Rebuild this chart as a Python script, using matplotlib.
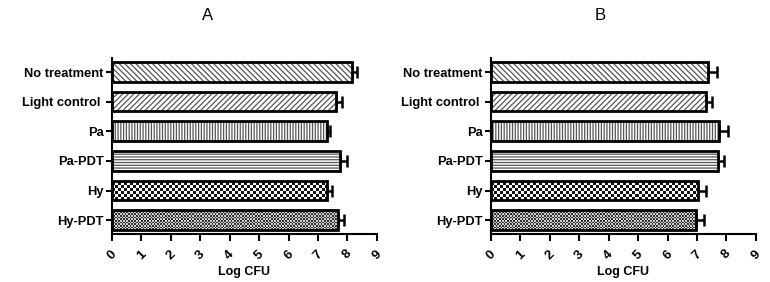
import numpy as np
import matplotlib
matplotlib.use('Agg')
import matplotlib.pyplot as plt

plt.rcParams['font.family'] = ['Liberation Sans', 'DejaVu Sans']
plt.rcParams['hatch.linewidth'] = 0.9

# data
groups = ['No treatment', 'Light control ', 'Pa', 'Pa-PDT', 'Hy', 'Hy-PDT']
log_cfu_a = [8.15, 7.62, 7.30, 7.73, 7.30, 7.68]
err_a = [0.17, 0.20, 0.10, 0.25, 0.17, 0.20]
log_cfu_b = [7.38, 7.31, 7.76, 7.72, 7.04, 6.97]
err_b = [0.30, 0.20, 0.28, 0.20, 0.27, 0.28]
hatches = ['\\\\\\\\\\\\', '//////', '||||||', '------', None, None]
# checkerboard fills for the last two bars: (cell size in px, light, dark)
checkers = {4: (3.0, 'white', '#111111'), 5: (1.6, '#cfcfcf', '#333333')}
panel_titles = ['A', 'B']

fig = plt.figure(figsize=(7.7, 2.82), dpi=100)
ax_a = fig.add_axes([0.1455, 0.170, 0.344, 0.624])
ax_b = fig.add_axes([0.6377, 0.170, 0.344, 0.624])

px_per_unit = 265 / 9.0
bar_h = 0.66


def draw_panel(ax, vals, errs):
    y = np.arange(len(groups))
    ax.set_ylim(5.47, -0.47)
    ax.set_xlim(0, 9)
    for i in range(len(groups)):
        if hatches[i] is not None:
            ax.barh(y[i], vals[i], height=bar_h, color='white', edgecolor='#555555',
                    hatch=hatches[i], linewidth=0, zorder=2)
        else:
            cell, c1, c2 = checkers[i]
            bars = ax.barh(y[i], vals[i], height=bar_h, color='white', linewidth=0, zorder=2)
            nx = int(vals[i] * px_per_unit / cell) + 1
            ny = int(20 / cell) + 1
            board = (np.add.outer(np.arange(ny), np.arange(nx)) % 2).astype(float)
            cmap = matplotlib.colors.ListedColormap([c1, c2])
            im = ax.imshow(board, cmap=cmap, interpolation='nearest', aspect='auto',
                           extent=(0, nx * cell / px_per_unit, y[i] + bar_h / 2, y[i] - bar_h / 2 - 0.05),
                           zorder=2.5)
            im.set_clip_path(bars[0])
    ax.barh(y, vals, height=bar_h, color='none', edgecolor='black', linewidth=2, zorder=3)
    ax.errorbar(vals, y, xerr=[np.zeros(len(errs)), errs], fmt='none', ecolor='black',
                elinewidth=1.8, capsize=4, capthick=1.8, zorder=1)
    ax.set_ylim(5.47, -0.47)
    ax.set_xlim(0, 9)
    ax.set_xticks(range(10))
    ax.set_yticks(y)
    ax.set_yticklabels(groups, fontsize=9.3, fontweight='bold')
    for lab in ax.get_xticklabels():
        lab.set_rotation(45)
        lab.set_fontweight('bold')
        lab.set_fontsize(9.5)
        lab.set_ha('center')
    ax.tick_params(axis='both', width=1.5, length=4, pad=2)
    ax.tick_params(axis='x', length=5, pad=5)
    for s in ['top', 'right']:
        ax.spines[s].set_visible(False)
    for s in ['left', 'bottom']:
        ax.spines[s].set_linewidth(1.5)
    ax.set_xlabel('Log CFU', fontsize=9, fontweight='bold', labelpad=3)


draw_panel(ax_a, log_cfu_a, err_a)
draw_panel(ax_b, log_cfu_b, err_b)

fig.text(208 / 770, 1 - 15 / 282, panel_titles[0], fontsize=12, ha='center', va='center')
fig.text(600 / 770, 1 - 15 / 282, panel_titles[1], fontsize=12, ha='center', va='center')

fig.savefig('out.png', dpi=100)
